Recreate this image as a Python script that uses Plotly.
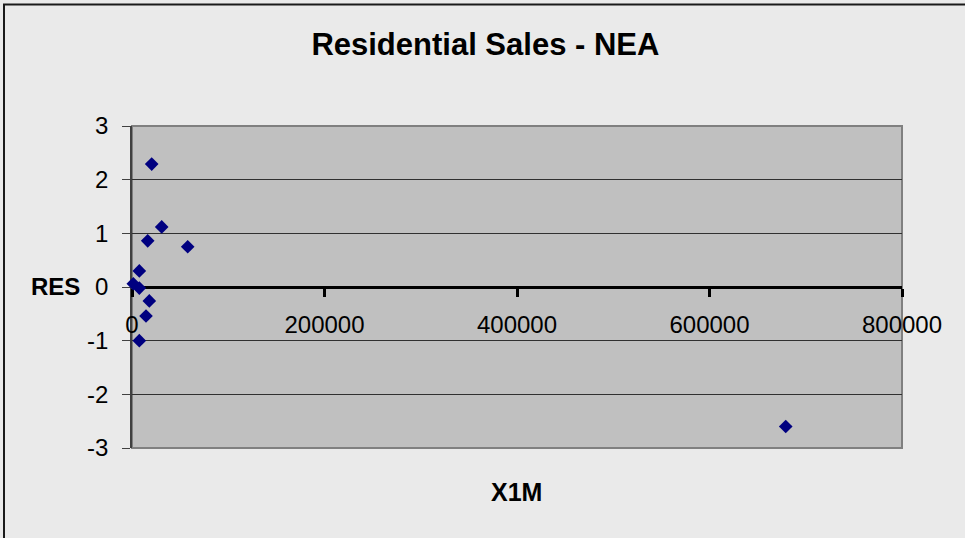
import plotly.graph_objects as go

# Data
x1m = [20470, 30860, 16310, 57870, 7590, 1350, 7590, 17970, 14550, 7590, 679200]
res = [2.29, 1.12, 0.86, 0.75, 0.30, 0.06, -0.02, -0.26, -0.54, -1.00, -2.60]
x_ticks = [0, 200000, 400000, 600000, 800000]
y_ticks = [-3, -2, -1, 0, 1, 2, 3]
y_tick_labels = ["-3", "-2", "-1", "0", "1", "2", "3"]

W, H = 965, 538
L, R, T, B = 132, 63, 126, 90
pw, ph = W - L - R, H - T - B

def px_x(p):
    return (p - L) / pw

def px_y(p):
    return (H - B - p) / ph

FONT = "Liberation Sans, Arial, sans-serif"

fig = go.Figure()
fig.add_trace(go.Scatter(
    x=x1m, y=res, mode="markers",
    marker=dict(symbol="diamond", size=10.5, color="#000080",
                line=dict(width=0)),
    showlegend=False, cliponaxis=False,
))

fig.update_layout(
    width=W, height=H,
    margin=dict(l=L, r=R, t=T, b=B, autoexpand=False),
    paper_bgcolor="#EAEAEA",
    plot_bgcolor="#C0C0C0",
    font=dict(family=FONT, size=24, color="#000000"),
    title=dict(text="Residential Sales - NEA", xref="container", yref="container",
               x=0.503, xanchor="center", y=1 - 44 / H, yanchor="middle",
               font=dict(family=FONT, size=31, color="#000000", weight="bold")),
    xaxis=dict(range=[0, 800000], tickvals=x_ticks, ticktext=[str(v) for v in x_ticks],
               anchor="free", position=0.5, showline=True, linecolor="#000000",
               linewidth=3, ticks="outside", ticklen=8, tickwidth=3, tickcolor="#000000",
               showgrid=False, zeroline=False, layer="below traces",
               tickfont=dict(family=FONT, size=24, color="#000000"),
               ticklabelstandoff=7),
    yaxis=dict(range=[-3, 3], tickvals=y_ticks, ticktext=y_tick_labels,
               showline=True, linecolor="#404040",
               linewidth=1.5, ticks="outside", ticklen=8, tickwidth=1, tickcolor="#404040",
               showgrid=True, gridcolor="#303030", gridwidth=1, zeroline=False,
               layer="below traces",
               tickfont=dict(family=FONT, size=24, color="#000000"),
               ticklabelstandoff=9),
    shapes=[
        # plot area border
        dict(type="rect", xref="paper", yref="paper", x0=0, x1=1, y0=0, y1=1,
             line=dict(color="#808080", width=2), layer="below"),
        # outer chart border
        dict(type="rect", xref="paper", yref="paper",
             x0=px_x(4), x1=px_x(W + 5), y0=px_y(H + 5), y1=px_y(4.5),
             line=dict(color="#1a1a1a", width=2)),
    ],
    annotations=[
        dict(text="RES", xref="paper", yref="paper", x=px_x(55.5), y=px_y(286),
             xanchor="center", yanchor="middle", showarrow=False,
             font=dict(family=FONT, size=24, color="#000000", weight="bold")),
        dict(text="X1M", xref="paper", yref="paper", x=px_x(516), y=px_y(492),
             xanchor="center", yanchor="middle", showarrow=False,
             font=dict(family=FONT, size=25, color="#000000", weight="bold")),
    ],
)

fig.write_html(
    "out.html",
    config={"displayModeBar": False},
    post_script="document.body.style.margin='0';document.body.style.overflow='hidden';"
                "document.body.style.background='#EAEAEA';",
)
